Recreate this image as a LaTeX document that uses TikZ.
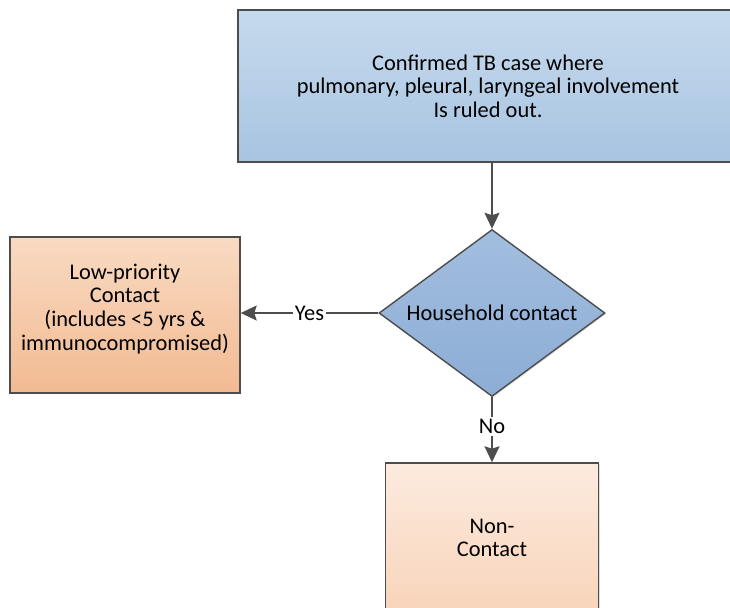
\documentclass[tikz,border=0pt]{standalone}
\usepackage{fontspec}
\setmainfont{Carlito}
\usepackage{xcolor}
\usepackage{tikz}
\usetikzlibrary{shapes.geometric}
\usetikzlibrary{arrows.meta}
\usetikzlibrary{shadows}

\definecolor{caseTop}{HTML}{C6DAED}
\definecolor{caseBot}{HTML}{A8C4E1}
\definecolor{decTop}{HTML}{A2BEDF}
\definecolor{decBot}{HTML}{8DADD5}
\definecolor{lowTop}{HTML}{F9DAC2}
\definecolor{lowBot}{HTML}{F2BA92}
\definecolor{nonTop}{HTML}{FCEBDF}
\definecolor{nonBot}{HTML}{F8D4BA}
\definecolor{edge}{HTML}{4D4D4D}

\tikzset{
    box/.style = {draw = edge, line width = 0.7pt, align = center,
        font = \fontsize{11.2}{11.8}\selectfont, inner sep = 0pt,
        drop shadow = {shadow xshift = 0.6pt, shadow yshift = -0.6pt, opacity = 0.25}},
    casebox/.style = {box, top color = caseTop, bottom color = caseBot,
        minimum width = 250pt, minimum height = 76pt},
    decision/.style = {box, diamond, aspect = 1.35, top color = decTop, bottom color = decBot,
        minimum width = 113pt, minimum height = 83.5pt},
    lowbox/.style = {box, top color = lowTop, bottom color = lowBot,
        minimum width = 115pt, minimum height = 78pt},
    nonbox/.style = {box, top color = nonTop, bottom color = nonBot,
        minimum width = 106.5pt, minimum height = 75pt},
    flow/.style = {draw = edge, line width = 0.8pt,
        -{Stealth[length = 8pt, width = 7.5pt, inset = 1.2pt]}},
    answer/.style = {fill = white, inner sep = 1pt,
        font = \fontsize{11.2}{11.8}\selectfont}
}

\begin{document}
\begin{tikzpicture}[x = 0.5pt, y = -0.5pt]
            \useasboundingbox (0, 0) rectangle (730, 607);

            \node[casebox] (case) at (488, 86)
                {Confirmed TB case where\\pulmonary, pleural, laryngeal involvement\\Is ruled out.};
            \node[decision] (house) at (492, 313) {Household contact};
            \node[lowbox] (low) at (125, 315)
                {Low-priority\\Contact\\(includes <5 yrs \&\\immunocompromised)\\[-3.8pt]};
            \node[nonbox] (non) at (492, 538) {Non-\\Contact};

            \draw[flow] (case.south -| house.north) -- (house.north);
            \draw[flow] (house.west) -- node[answer] {Yes} (house.west -| low.east);
            \draw[flow] (house.south) -- node[answer, pos = 0.45] {No} (non.north);
        \end{tikzpicture}
\end{document}
